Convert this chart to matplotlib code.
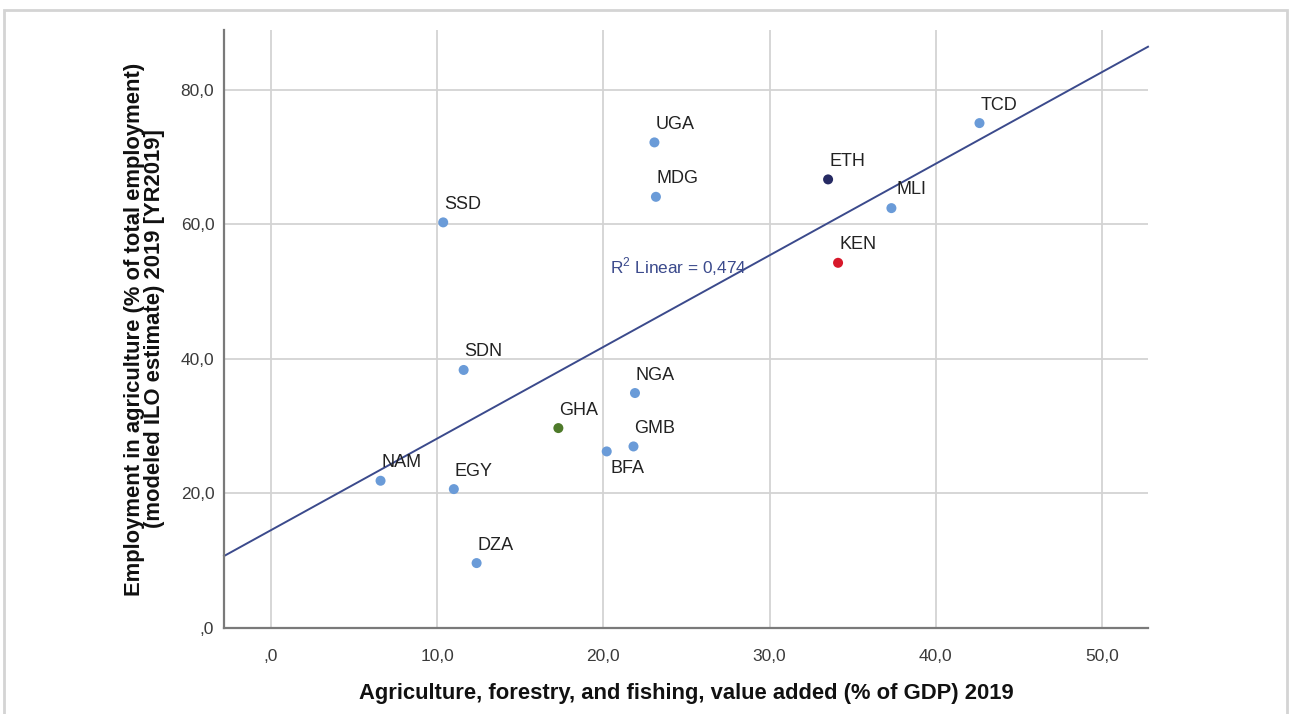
import numpy as np
import matplotlib
matplotlib.use("Agg")
import matplotlib.pyplot as plt
from matplotlib.patches import Rectangle

plt.rcParams['font.family'] = ['Liberation Sans', 'DejaVu Sans']
plt.rcParams['mathtext.fontset'] = 'custom'
plt.rcParams['mathtext.rm'] = 'Liberation Sans'

# Country codes and indicator values (2019)
countries = ["NAM", "EGY", "DZA", "SSD", "SDN", "GHA", "BFA", "GMB", "NGA",
             "UGA", "MDG", "ETH", "KEN", "MLI", "TCD"]
agri_value_added = [6.59, 11.0, 12.37, 10.36, 11.59, 17.29, 20.2, 21.81, 21.9,
                    23.07, 23.16, 33.52, 34.12, 37.33, 42.63]
agri_employment = [21.89, 20.65, 9.65, 60.3, 38.36, 29.72, 26.25, 26.99, 34.93,
                   72.19, 64.1, 66.69, 54.29, 62.42, 75.06]

x_ticks = [0, 10, 20, 30, 40, 50]
y_ticks = [0, 20, 40, 60, 80]
r2_label = "R$^{\\mathrm{2}}$ Linear = 0,474"

default_color = "#6a9bd8"
highlight_colors = {"ETH": "#262a63", "KEN": "#d7182a", "GHA": "#4e7a2a"}
label_offsets = {"BFA": (4, 17), "MLI": (5, -19)}


def comma_fmt(v):
    s = f"{v:.1f}".replace(".", ",")
    return s[1:] if s.startswith("0,") else s


fig = plt.figure(figsize=(12.89, 7.14), dpi=100)
fig.patch.set_facecolor("white")

# light frame around the chart
fig.patches.append(Rectangle((4 / 1289, -0.05), 1283 / 1289, 1 - 10 / 714 + 0.05,
                             transform=fig.transFigure, fill=False,
                             edgecolor="#d4d4d4", linewidth=2.0))

ax = fig.add_axes([224 / 1289, 1 - 628 / 714, (1148 - 224) / 1289, (628 - 30) / 714])
ax.set_xlim(-2.83, 52.77)
ax.set_ylim(0, 88.9)

ax.set_xticks(x_ticks)
ax.set_yticks(y_ticks)
ax.set_xticklabels([comma_fmt(v) for v in x_ticks])
ax.set_yticklabels([comma_fmt(v) for v in y_ticks])
ax.tick_params(length=0, labelsize=12.5, colors="#3a3a3a")
ax.tick_params(axis="x", pad=15)
ax.tick_params(axis="y", pad=7)

ax.grid(True, color="#d3d3d3", linewidth=1.3)
ax.set_axisbelow(True)
for side in ("top", "right"):
    ax.spines[side].set_visible(False)
for side in ("left", "bottom"):
    ax.spines[side].set_color("#7a7a7a")
    ax.spines[side].set_linewidth(1.6)

# least-squares fit line across the full x range
slope, intercept = np.polyfit(agri_value_added, agri_employment, 1)
xl = np.array(ax.get_xlim())
ax.plot(xl, intercept + slope * xl, color="#3b4a8c", linewidth=1.4, zorder=2,
        clip_on=False)

colors = [highlight_colors.get(c, default_color) for c in countries]
ax.scatter(agri_value_added, agri_employment, s=52, c=colors, zorder=3,
           linewidths=0)

for c, xv, yv in zip(countries, agri_value_added, agri_employment):
    dx, dy = label_offsets.get(c, (1, -18))
    ax.annotate(c, (xv, yv), xytext=(dx, -dy), textcoords="offset pixels",
                ha="left", va="center", fontsize=13, color="#222222")

ax.text(20.42, 53.7, r2_label, fontsize=12.4, color="#3b4a8c",
        ha="left", va="center")

ax.set_xlabel("Agriculture, forestry, and fishing, value added (% of GDP) 2019",
              fontsize=15.8, fontweight="bold", color="#111111", labelpad=14)
ax.set_ylabel("Employment in agriculture (% of total employment)\n"
              "(modeled ILO estimate) 2019 [YR2019]",
              fontsize=15.8, fontweight="bold", color="#111111", labelpad=11,
              linespacing=0.93)

fig.savefig("out.png", dpi=100, facecolor="white")
